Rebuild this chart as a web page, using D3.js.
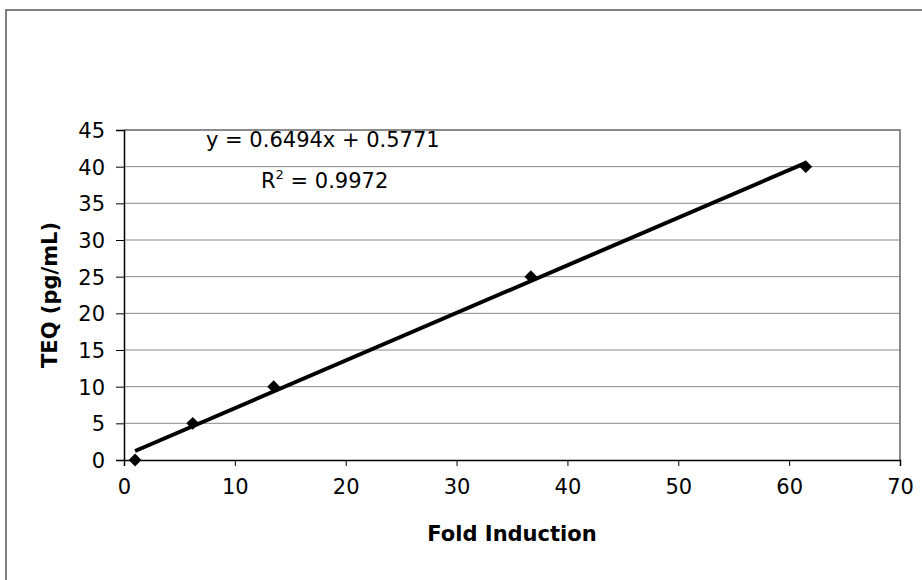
<!DOCTYPE html>
<html>
<head>
<meta charset="utf-8">
<script src="https://cdn.jsdelivr.net/npm/d3@7"></script>
<style>
  body { margin: 0; background: #fff; }
  text { font-family: "DejaVu Sans", sans-serif; fill: #000; }
</style>
</head>
<body>
<svg id="chart" width="922" height="580"></svg>
<script>
const foldInduction = [1.0, 6.2, 13.5, 36.7, 61.5],
teq = [0, 5, 10, 25, 40],
xTicks = [0, 10, 20, 30, 40, 50, 60, 70],
yTicks = [0, 5, 10, 15, 20, 25, 30, 35, 40, 45],
slope = 0.6494,
intercept = 0.5771,
rSquared = '0.9972',
margin = {top: 130, right: 22, bottom: 120, left: 124},
width = 922 - margin.left - margin.right,
height = 580 - margin.top - margin.bottom;

const svg = d3.select('#chart');

// outer chart frame (runs off the right/bottom of the scan)
svg.append('rect')
  .attr('x', 6)
  .attr('y', 10)
  .attr('width', 1000)
  .attr('height', 1000)
  .attr('fill', 'none')
  .attr('stroke', '#555')
  .attr('stroke-width', 1.5);

const x = d3.scaleLinear()
  .domain([0, 70])
  .range([0, width]);

const y = d3.scaleLinear()
  .domain([0, 45])
  .range([height, 0]);

const chart = svg.append('g')
  .attr('transform', `translate(${margin.left}, ${margin.top})`);

// gridlines
chart.append('g')
  .selectAll('line')
  .data(yTicks.slice(1, -1))
  .enter().append('line')
  .attr('x1', 0)
  .attr('x2', width)
  .attr('y1', (d) => y(d))
  .attr('y2', (d) => y(d))
  .attr('stroke', '#8a8a8a')
  .attr('stroke-width', 1);

// plot area top + right border
chart.append('path')
  .attr('d', `M0,${y(45)}H${width}V${height}`)
  .attr('fill', 'none')
  .attr('stroke', '#666')
  .attr('stroke-width', 1.5);

const xAxis = chart.append('g')
  .attr('transform', `translate(0,${height})`)
  .call(d3.axisBottom(x).tickValues(xTicks).tickSize(6).tickPadding(13));

const yAxis = chart.append('g')
  .call(d3.axisLeft(y).tickValues(yTicks).tickSize(8).tickPadding(11));

[xAxis, yAxis].forEach((a) => {
  a.attr('font-family', null).attr('font-size', null);
  a.select('.domain').attr('stroke', '#000').attr('stroke-width', 1.5);
  a.selectAll('.tick line').attr('stroke', '#000');
  a.selectAll('.tick text')
    .style('font-family', '"DejaVu Sans", sans-serif')
    .style('font-size', '21px')
    .attr('fill', '#000');
});
yAxis.selectAll('.tick text').attr('dy', '0.36em');

// trendline
const xMin = d3.min(foldInduction), xMax = d3.max(foldInduction);
chart.append('line')
  .attr('x1', x(xMin))
  .attr('y1', y(slope * xMin + intercept))
  .attr('x2', x(xMax))
  .attr('y2', y(slope * xMax + intercept))
  .attr('stroke', '#000')
  .attr('stroke-width', 4);

// data markers
chart.selectAll('.point')
  .data(foldInduction.map((d, i) => [d, teq[i]]))
  .enter().append('path')
  .attr('class', 'point')
  .attr('d', d3.symbol().type(d3.symbolDiamond2).size(105))
  .attr('transform', (d) => `translate(${x(d[0])},${y(d[1])})`)
  .attr('fill', '#000');

// equation labels
chart.append('text')
  .attr('x', 82)
  .attr('y', 17)
  .style('font-size', '21px')
  .text(`y = ${slope}x + ${intercept}`);

const r2 = chart.append('text')
  .attr('x', 137)
  .attr('y', 58)
  .style('font-size', '21px');
r2.append('tspan').text('R');
r2.append('tspan').attr('dy', -9).style('font-size', '13px').text('2');
r2.append('tspan').attr('dy', 9).text(` = ${rSquared}`);

// axis titles
chart.append('text')
  .attr('x', width / 2)
  .attr('y', height + 81)
  .attr('text-anchor', 'middle')
  .style('font-size', '21px')
  .style('font-weight', 'bold')
  .text('Fold Induction');

chart.append('text')
  .attr('transform', `translate(${-67},${height / 2}) rotate(-90)`)
  .attr('text-anchor', 'middle')
  .style('font-size', '21px')
  .style('font-weight', 'bold')
  .text('TEQ (pg/mL)');
</script>
</body>
</html>
